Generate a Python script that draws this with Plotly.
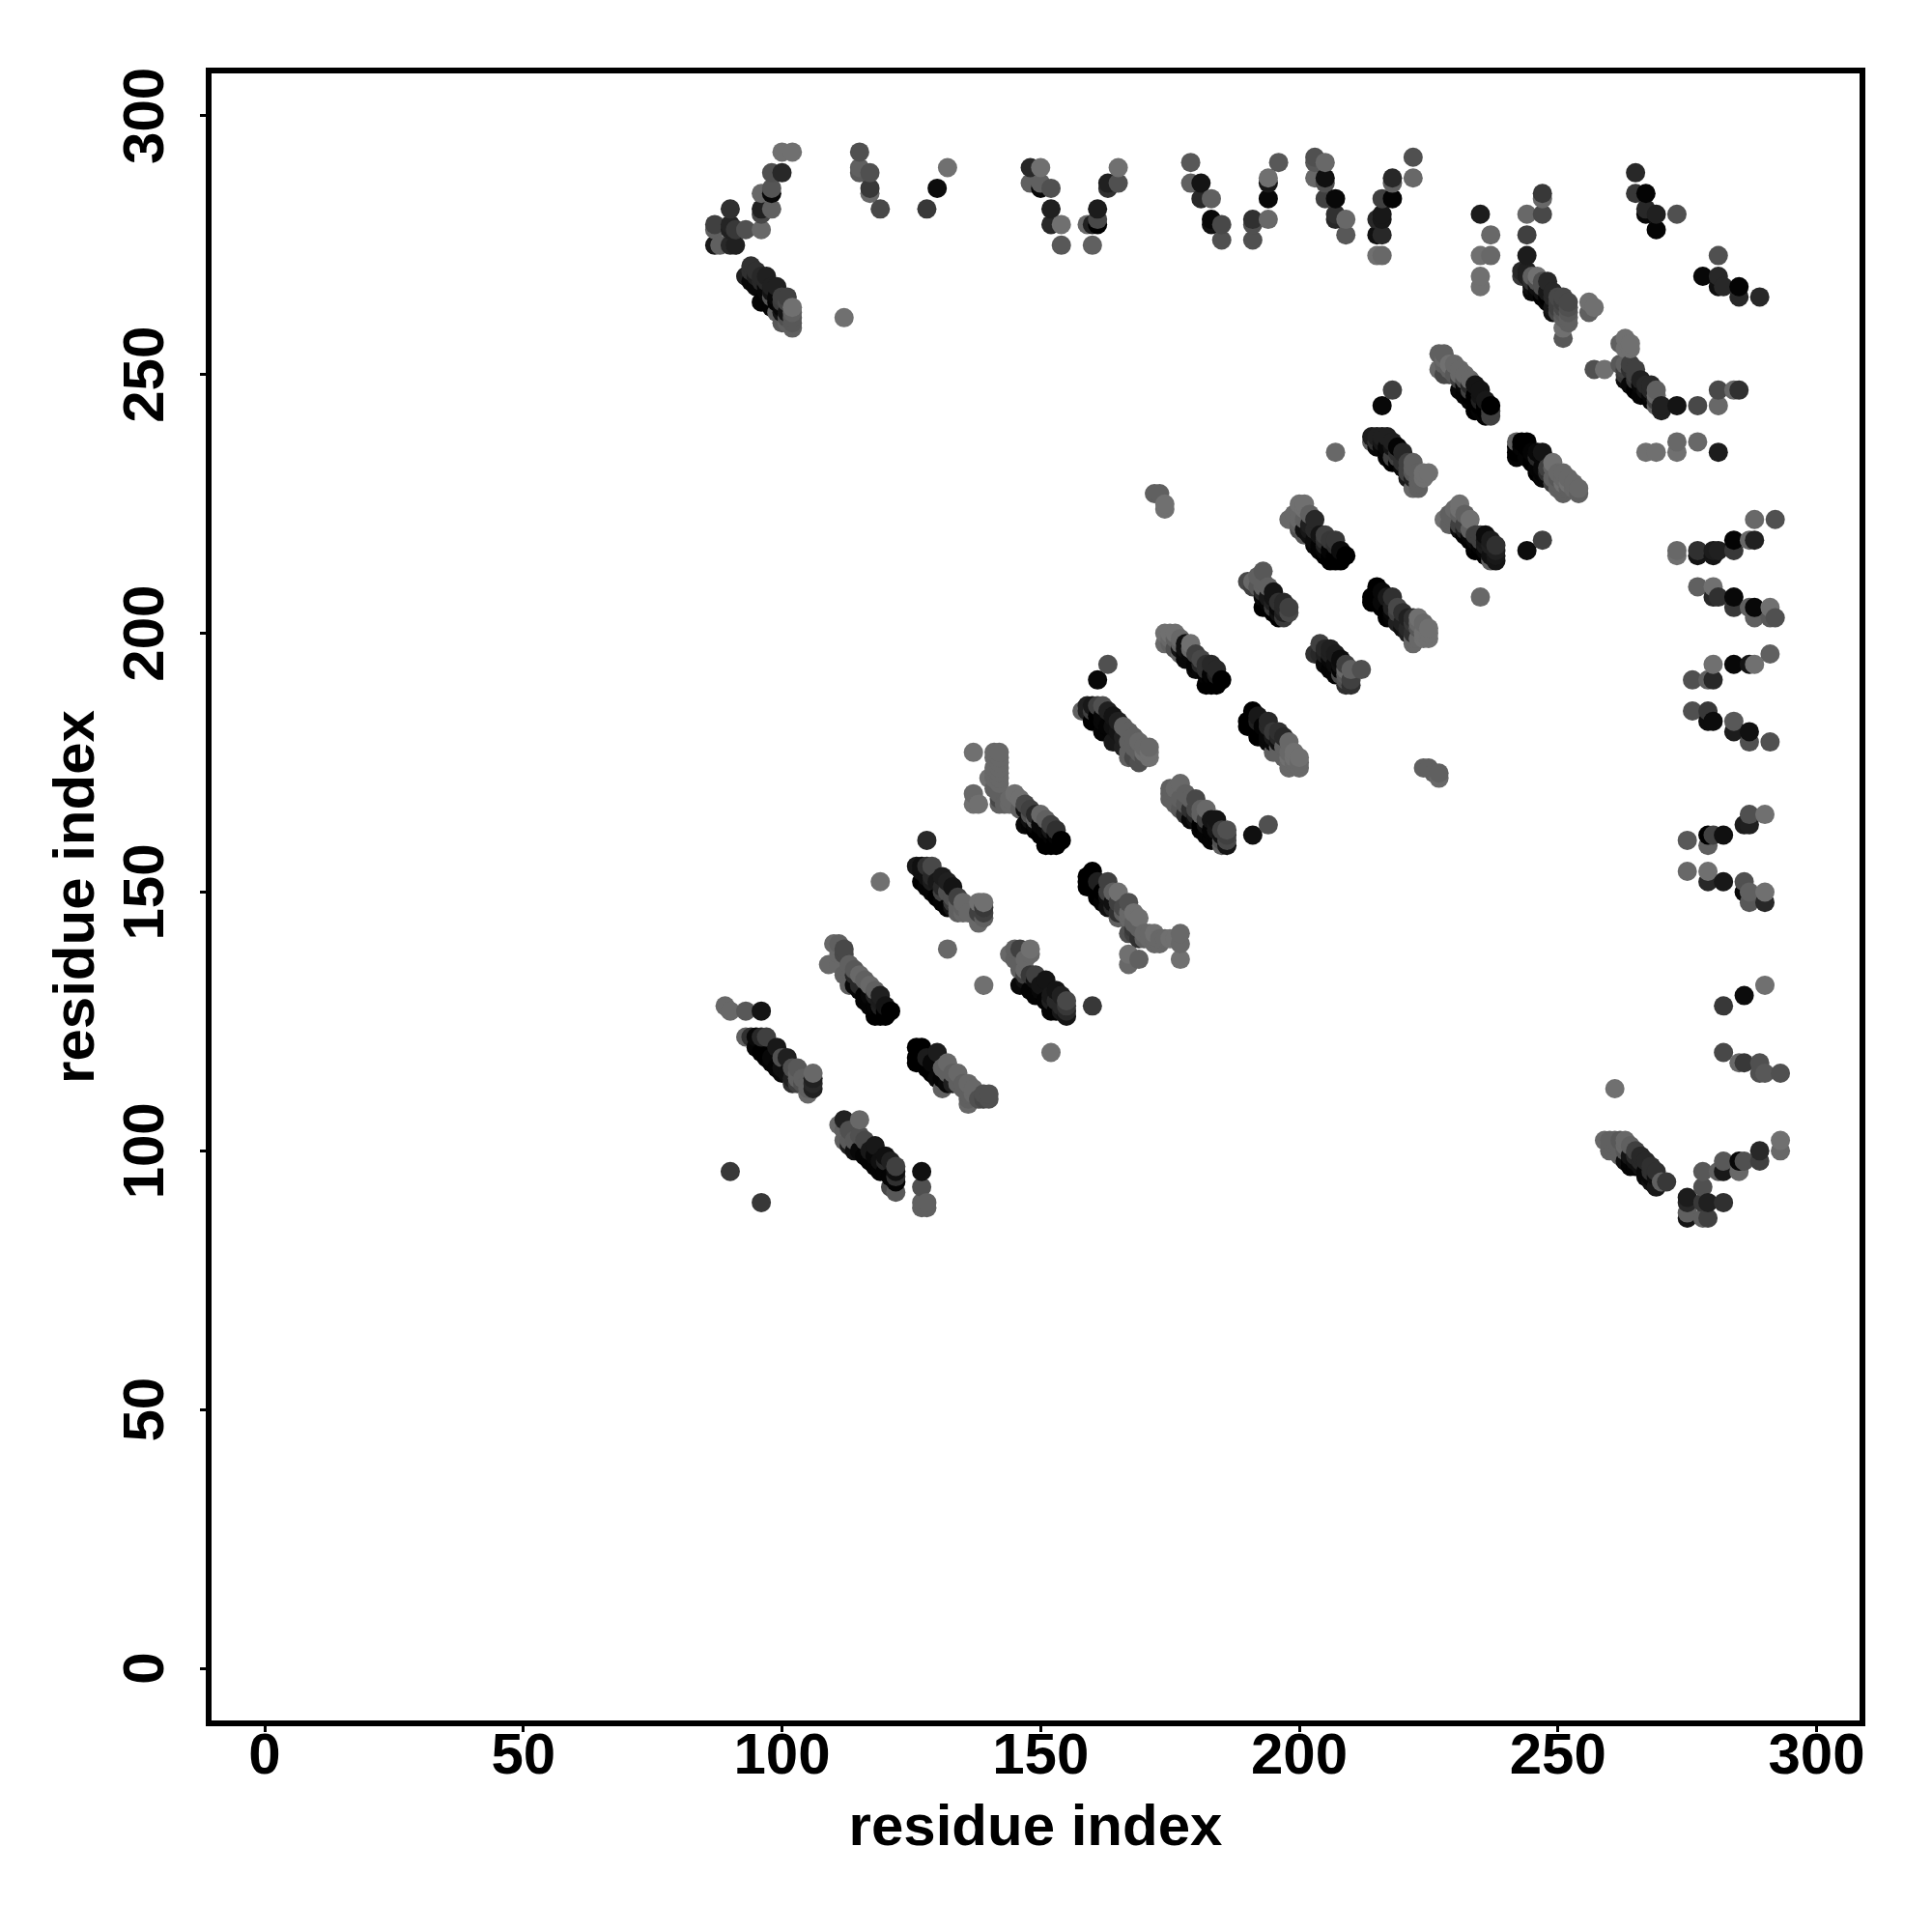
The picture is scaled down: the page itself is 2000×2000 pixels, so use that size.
import plotly.graph_objects as go

# Contacts: (residue i, residue j, shade 0=black .. 112=mid grey)
top_left = [(100,293,112),(102,293,112),(98,289,80),(100,289,40),(96,285,104),(98,285,8),(98,286,85),
 (96,282,32),(98,282,96),(96,281,72),(90,282,48),(87,279,64),(87,278,96),(90,279,36),(90,278,32),
 (91,278,56),(93,278,80),(96,278,104),(87,275,24),(88,275,96),(90,275,40),(91,275,32)]
top_left_band = [(94,271,48),(93,269,32),(96,269,40),(98,267,32),(94,268,8),(95,267,8),(96,264,4),(97,266,8),
 (100,265,64),(98,265,85),(98,263,4),(99,262,96),(100,260,88),(101,262,20),(102,263,112),(102,262,96),
 (102,261,88),(102,259,96),(112,261,112),
 (94,270,48),(95,269,32),(95,270,48),(96,268,40),(97,268,40),(97,269,32),(97,267,8),(98,266,20),(99,267,32),
 (99,265,8),(99,264,4),(100,264,60),(100,263,8),(101,265,64),(101,264,72),(101,260,96),(100,262,20),(101,261,80),(102,260,88)]
top_119 = [(115,293,80),(115,290,96),(115,289,90),(117,289,80),(117,286,56),(117,285,104),(119,282,72),
 (132,290,112),(130,286,12),(128,282,56)]
top_150 = [(148,290,40),(150,290,112),(148,287,96),(150,287,96),(150,286,8),(152,286,80),(152,282,32),
 (152,279,40),(154,279,112),(154,275,88),(159,279,104),(160,279,32),(161,279,0),(161,280,72),(161,282,28),
 (160,275,96),(165,290,112),(163,287,32),(163,286,48),(165,287,80)]
top_180 = [(179,291,88),(179,287,96),(181,287,20),(181,284,40),(183,284,96),(183,280,8),(183,279,16),
 (185,279,72),(185,276,80),(191,280,48),(191,279,80),(191,276,80),(194,288,112),(194,287,24),(194,284,8),
 (194,280,104),(196,291,88)]
top_205 = [(203,292,80),(203,291,88),(205,291,104),(203,288,104),(205,288,16),(205,287,80),(205,284,64),
 (207,284,8),(207,281,48),(207,280,40),(209,280,104),(209,277,88),(216,284,64),(215,280,40),(216,281,24),
 (216,280,24),(215,277,16),(216,277,40),(215,273,112),(216,273,104),(218,288,40),(218,287,96),(218,284,4),
 (222,292,80),(222,288,104)]
top_235 = [(235,281,28),(237,277,104),(235,273,112),(237,273,104),(235,269,112),(235,267,112),
 (247,285,56),(247,284,104),(247,281,72),(244,281,104),(244,277,64),(244,273,28)]
band_245 = [(243,270,40),(244,270,32),(243,269,56),(246,269,112),(248,268,40),(247,268,80),(246,267,16),
 (245,266,8),(247,265,0),(250,265,72),(252,264,72),(249,263,24),(252,262,88),(250,263,64),(251,261,96),
 (251,259,112),(251,257,88),(256,264,112),(257,263,112),(256,262,96),
 (244,269,32),(245,268,48),(245,269,96),(245,267,16),(246,268,80),(246,266,8),(247,267,80),(248,266,24),(247,266,16),
 (248,264,4),(249,266,40),(249,265,40),(248,265,0),(250,264,64),(249,262,16),(250,262,72),(251,265,72),(251,264,64),
 (251,263,72),(252,263,80),(251,262,88),(252,261,96),(252,260,96)]
top_265 = [(265,289,40),(265,285,56),(267,285,4),(267,282,40),(267,281,8),(269,281,32),(269,278,4),(273,281,80),
 (281,273,80),(278,269,8),(281,269,40),(281,267,16),(282,267,40),(285,267,4),(285,265,40),(289,265,40)]
band_230 = [(227,254,96),(228,254,96),(227,251,104),(229,252,112),(228,250,72),(231,251,104),(233,249,104),
 (232,249,80),(231,247,8),(232,246,4),(233,247,64),(235,247,20),(235,246,20),(235,245,32),(234,243,0),
 (236,242,4),(237,244,0),(237,243,64),
 (228,253,104),(228,252,96),(229,251,96),(230,250,88),(229,250,72),(230,252,104),(231,250,104),(231,249,64),(232,250,104),
 (232,248,8),(233,248,40),(233,246,0),(234,248,20),(234,245,0),(234,246,0),(235,244,0),(235,243,4),(236,245,24),
 (236,244,0),(236,243,0),(233,245,4),(237,242,64)]
band_262 = [(262,256,96),(263,257,112),(264,256,112),(257,251,80),(259,251,112),(262,252,88),(264,252,64),
 (263,250,56),(263,249,12),(265,250,64),(265,247,0),(266,246,4),(268,248,40),(269,246,104),(269,244,96),
 (270,244,32),(270,243,32),(273,244,20),(277,244,72),(281,244,104),(281,247,72),(284,247,104),(285,247,48),
 (263,252,96),(263,255,112),(264,255,112),(264,251,48),(264,248,8),(265,251,64),(265,249,56),(263,251,64),(266,249,32),
 (266,248,8),(267,248,40),(267,246,4),(267,247,20),(268,246,8),(268,245,4),(268,247,40),(269,245,64),(269,247,96)]
row_235 = [(273,237,104),(277,237,104),(267,235,112),(269,235,112),(273,235,112),(281,235,28)]
band_245b = [(242,237,96),(244,237,0),(242,236,0),(242,234,4),(247,235,20),(246,232,4),(249,233,112),
 (247,230,8),(251,231,104),(250,229,96),(251,229,112),(251,228,96),(254,228,104),(254,227,96),
 (243,237,0),(242,235,0),(243,236,4),(243,235,0),(244,236,0),(245,235,4),(244,234,4),(245,233,0),(246,235,8),(246,234,40),
 (247,234,8),(246,231,0),(247,232,8),(248,232,64),(248,231,48),(247,231,4),(248,230,8),(249,232,96),(249,230,96),(250,231,104),
 (249,229,64),(250,230,88),(251,230,104),(252,230,104),(252,229,112),(252,228,96),(253,228,104),(253,229,104),(251,227,96),(250,228,96)]
band_215 = [(214,238,28),(214,237,96),(216,238,32),(217,238,32),(219,236,4),(216,236,8),(218,234,64),(217,234,4),
 (218,233,0),(222,233,96),(221,231,64),(223,231,96),(225,231,112),(223,229,96),(222,228,104),
 (216,244,8),(218,247,64),(207,235,104),(172,227,96),(173,227,96),(174,225,112),(174,224,112),
 (215,238,32),(215,237,48),(215,236,8),(216,237,24),(217,236,8),(217,235,4),(218,237,32),(218,236,20),(219,235,48),(219,234,64),
 (219,233,0),(220,235,40),(220,233,48),(220,232,8),(221,233,64),(221,232,64),(222,231,88),(222,232,96),(223,230,96),(221,230,24),
 (222,230,32),(224,230,112),(224,231,112),(223,228,96)]
band_200 = [(200,225,112),(201,225,112),(198,222,104),(200,223,104),(201,219,88),(203,222,40),(202,221,32),
 (203,218,12),(205,219,64),(204,219,20),(207,218,56),(205,216,8),(206,214,0),(207,214,0),(209,215,0),(208,214,0),
 (199,223,104),(200,222,104),(201,224,112),(201,222,96),(200,221,96),(200,220,80),(202,223,96),(202,220,24),(202,219,16),
 (203,220,40),(201,220,16),(203,217,8),(204,217,4),(204,216,4),(205,218,48),(205,217,32),(206,218,56),(206,216,4),(206,215,0),
 (207,215,0),(207,217,48),(208,215,0),(208,216,12),(205,215,0)]
band_190 = [(190,210,72),(193,212,88),(191,210,104),(193,209,96),(195,208,20),(193,207,8),(193,205,0),
 (197,206,40),(195,205,56),(196,203,0),(198,204,72),(197,203,56),
 (191,209,64),(192,211,96),(192,209,88),(193,210,96),(194,209,96),(193,208,40),(194,207,24),(194,206,4),(195,207,20),(195,206,32),
 (196,206,48),(196,205,8),(194,205,0),(195,204,0),(197,205,40),(197,204,32),(196,204,16),(198,205,64)]
band_175 = [(174,200,112),(176,200,112),(174,198,104),(177,196,96),(178,198,16),(179,198,112),(180,196,64),
 (178,195,8),(180,193,8),(181,195,72),(183,194,40),(182,190,0),(183,190,0),(185,191,0),(184,190,0),
 (161,191,8),(163,194,80),
 (175,200,112),(175,199,104),(175,198,96),(176,199,96),(177,199,104),(176,197,80),(177,198,96),(177,197,20),(178,197,16),(179,196,8),
 (179,197,104),(178,196,8),(180,194,4),(181,194,40),(181,193,8),(182,193,48),(182,194,48),(183,192,4),(182,192,4),(184,193,40),
 (184,192,32),(183,191,0),(184,191,0)]
band_215b = [(215,209,0),(214,207,0),(214,206,0),(218,207,48),(217,204,0),(219,205,72),(219,202,32),(222,203,48),
 (223,203,112),(225,200,112),(225,199,112),(222,198,104),(221,200,32),
 (215,208,0),(215,207,0),(216,208,8),(216,206,8),(216,205,0),(217,207,24),(218,205,32),(218,204,8),(217,203,0),(218,203,4),(219,204,64),
 (220,204,48),(220,202,32),(220,201,16),(221,203,32),(221,201,40),(222,202,56),(222,200,48),(223,202,104),(223,201,88),(224,202,104),
 (224,200,112),(222,199,104),(223,199,104),(224,199,112),(225,201,112)]
band_205 = [(204,198,64),(203,196,48),(206,197,32),(205,194,8),(208,195,12),(207,192,4),(209,193,104),(212,193,80),
 (209,191,80),(210,190,48),
 (204,196,40),(205,197,40),(205,196,32),(206,196,32),(206,195,8),(207,196,28),(207,194,12),(206,193,4),(208,193,4),(208,194,16),
 (209,194,64),(209,192,88),(208,192,72),(210,193,96),(210,191,64),(209,190,48)]
band_160 = [(158,185,96),(159,186,32),(162,186,80),(164,184,20),(160,183,0),(162,181,4),(166,182,96),(164,179,24),
 (168,180,96),(170,178,104),(167,176,96),(169,175,80),(171,177,112),
 (159,185,32),(160,186,24),(160,185,64),(161,186,64),(161,184,0),(162,184,8),(163,185,32),(163,182,4),(164,182,16),(165,183,32),
 (165,181,20),(166,180,32),(165,179,24),(167,181,96),(166,178,32),(167,179,96),(168,178,96),(167,177,96),(169,179,104),(170,176,80),
 (169,177,96),(168,176,72),(170,177,112),(171,176,112),(171,178,104),(162,183,8)]
band_190b = [(191,185,0),(190,183,0),(190,182,0),(194,183,40),(192,180,0),(195,181,56),(196,180,40),(198,179,104),
 (195,177,96),(200,176,112),(198,174,104),(200,174,104),(199,177,112),(195,179,8),
 (191,184,0),(191,183,0),(192,184,24),(192,183,32),(193,182,4),(193,180,0),(194,182,40),(194,180,8),(194,179,8),(195,180,24),
 (196,181,48),(196,179,16),(196,178,96),(197,180,40),(197,178,96),(198,177,104),(198,176,112),(199,176,112),(198,175,104),(199,175,104),
 (197,176,96),(200,175,104)]
band_175b = [(175,170,96),(177,171,104),(175,169,96),(176,167,96),(180,168,72),(182,166,104),(178,165,48),
 (181,163,0),(184,164,20),(182,161,4),(186,162,80),(186,160,72),(186,159,20),(185,159,96),(191,161,16),(194,163,80),
 (224,174,96),(225,174,96),(226,173,96),(227,173,96),(227,172,104),
 (176,170,104),(175,168,96),(176,169,96),(177,168,96),(178,169,96),(179,168,96),(177,166,88),(178,167,88),(179,166,48),(180,166,72),
 (179,164,8),(180,164,16),(180,165,40),(181,166,96),(181,165,96),(182,164,64),(181,162,4),(182,163,16),(183,164,20),(183,162,4),
 (183,160,4),(184,162,24),(184,163,24),(184,161,4),(185,161,16),(185,162,64),(186,161,64),(185,160,80)]
band_235 = [(228,222,112),(229,223,96),(231,225,112),(231,223,96),(231,221,64),(233,222,112),(233,218,4),(234,216,0),
 (236,219,12),(238,217,48),(238,216,32),(238,214,20),(237,214,96),(235,218,64),(244,216,12),(247,218,64),(235,207,104),
 (229,221,96),(230,222,96),(230,224,104),(231,224,112),(232,223,96),(232,221,64),(230,221,96),(231,220,16),(232,219,4),(233,220,96),
 (232,220,32),(233,219,8),(234,218,12),(234,219,64),(235,219,64),(235,217,4),(234,217,4),(235,216,0),(236,218,24),(236,217,28),
 (237,218,28),(236,215,0),(237,217,32),(237,215,16),(236,216,8),(238,215,24)]
right_215 = [(288,222,104),(292,222,80),(273,216,104),(273,215,112),(277,216,48),(277,215,20),(280,216,28),(280,215,20),
 (281,216,32),(284,216,56),(284,218,4),(287,218,104),(288,218,32)]
right_205 = [(277,209,96),(280,209,112),(280,207,40),(281,207,48),(284,207,8),(284,205,56),(287,205,96),(288,205,8),
 (291,205,112),(288,203,96),(291,203,88),(292,203,80),(291,196,96),(280,194,112),(284,194,8),(287,194,20),(288,194,112),
 (276,191,80),(279,191,96),(280,191,40)]
right_180 = [(276,185,80),(279,185,56),(279,183,12),(280,183,12),(284,183,88),(284,181,28),(287,181,16),(287,179,80),(291,179,80)]
right_160 = [(275,160,88),(279,161,0),(279,159,96),(280,161,64),(282,161,16),(286,163,28),(287,163,32),(287,165,80),(290,165,112),
 (275,154,104),(279,154,112),(279,152,40),(282,152,24),(286,152,80),(286,150,8),(287,150,96),(287,148,88),(290,150,112),(290,148,40)]
right_120 = [(290,132,112),(286,130,12),(282,128,56),(282,119,72),(285,117,104),(286,117,56),(289,117,80),(289,115,80),
 (290,115,88),(293,115,80),(261,112,112)]
bottom_right = [(293,102,112),(293,100,104),(289,100,40),(289,98,64),(285,98,8),(286,98,80),(285,96,104),(282,98,88),(282,96,24),
 (281,96,96),(278,96,88),(278,93,80),(282,90,48),(279,90,32),(278,90,56),(275,91,28),(275,90,40),(275,88,96),(275,87,20),
 (278,87,96),(279,87,64)]
band_262b = [(259,102,104),(260,102,96),(261,102,96),(262,102,88),(263,102,104),(260,100,96),(262,99,96),(265,100,64),(264,97,4),
 (263,98,16),(267,98,40),(267,95,8),(269,96,48),(268,94,16),(269,93,24),(270,94,96),(271,94,56),
 (260,101,96),(261,101,96),(261,100,96),(262,100,96),(263,100,88),(263,101,104),(264,101,96),(264,99,20),(265,99,40),(265,98,16),
 (264,98,4),(265,97,4),(266,99,40),(266,98,40),(266,97,16),(267,96,8),(268,97,48),(268,96,48),(268,95,8),(269,95,16)]
band_130 = [(128,160,40),(126,155,24),(127,155,16),(128,155,48),(129,155,72),(127,152,0),(131,153,28),(129,150,4),(133,151,20),
 (131,148,4),(132,150,80),(135,148,104),(134,149,64),(134,146,96),(135,146,104),(139,148,112),(138,148,112),(139,146,64),
 (139,145,96),(138,144,104),(119,152,112),(132,139,104),(139,132,112),(152,119,112),
 (127,154,16),(128,153,16),(129,153,40),(128,151,4),(129,152,28),(130,152,24),(130,149,0),(131,151,40),(131,150,64),(132,152,32),
 (132,147,4),(133,149,80),(133,147,20),(133,148,56),(134,148,96),(134,147,96),(135,147,96),(136,146,104),(139,147,56),(138,146,64)]
band_115 = [(110,140,104),(111,140,96),(112,139,72),(109,136,104),(111,136,104),(113,136,96),(112,134,96),(115,134,104),(114,134,40),
 (113,132,96),(114,132,8),(117,132,104),(116,129,4),(119,130,32),(118,126,0),(119,126,0),(120,126,0),(121,127,0),
 (111,138,104),(112,138,72),(113,135,96),(114,135,88),(115,132,40),(116,133,96),(115,131,8),(117,130,8),(116,130,4),(118,128,4),
 (117,128,4),(118,130,32),(118,131,96),(119,128,32),(120,128,20),(119,127,0),(120,127,0),(119,129,28)]
band_90 = [(89,128,104),(90,127,104),(93,127,88),(96,127,20)]
band_98 = [(93,122,96),(94,122,48),(95,122,8),(96,122,40),(97,122,64),(96,119,0),(99,120,24),(98,117,4),(101,118,32),(100,115,8),
 (100,118,80),(103,116,88),(102,113,48),(106,115,104),(106,112,32),(105,111,104),(103,114,96),
 (95,120,4),(97,118,0),(98,118,8),(99,116,4),(100,116,16),(101,115,16),(102,114,32),(103,113,64),(104,113,80),(105,113,96),(102,116,80),
 (103,115,96),(104,114,96),(105,112,96),(106,114,32),(106,113,40)]
band_115b = [(111,105,104),(112,106,32),(115,106,104),(112,102,96),(115,103,80),(114,100,16),(118,101,24),(117,98,4),(120,99,16),(119,96,4),
 (122,97,64),(122,95,48),(122,94,4),(121,93,72),(122,92,88),(127,96,16),(127,93,80),(127,90,96),(127,89,96),(128,90,96),(128,89,96),
 (90,96,56),(96,90,56),
 (113,104,80),(112,104,96),(113,102,90),(113,101,32),(114,102,88),(115,100,8),(116,99,4),(116,102,72),(117,100,24),(118,97,4),(119,98,16),
 (118,99,8),(120,96,4),(121,95,4),(121,98,32),(122,96,16),(120,98,40)]
band_130b = [(127,120,0),(126,120,0),(126,118,0),(126,117,0),(130,119,28),(128,116,0),(132,117,104),(130,114,8),(134,115,104),(131,112,96),
 (136,113,104),(135,113,96),(136,109,104),(139,111,80),(140,111,80),(140,110,80),
 (127,118,0),(128,118,28),(129,117,8),(129,115,0),(131,116,96),(131,114,4),(132,115,96),(133,113,32),(132,113,8),(133,115,96),(134,113,96),
 (135,112,96),(137,112,104),(136,111,96),(137,111,104),(136,110,96),(139,110,72),(138,110,80)]
band_148 = [(144,138,104),(145,139,96),(146,139,64),(148,139,112),(148,138,104),(146,135,96),(147,135,104),(146,132,8),(149,134,64),(151,133,20),
 (149,130,4),(153,131,20),(152,127,4),(155,129,72),(155,127,40),(155,126,20),(160,128,56),
 (145,137,96),(147,137,104),(146,136,96),(147,133,16),(147,134,64),(148,134,56),(148,131,4),(149,133,16),(150,131,8),(150,132,20),(151,129,4),
 (152,130,24),(152,129,32),(153,127,4),(154,130,32),(154,127,24),(154,128,40),(155,128,56),(153,129,40)]
band_162 = [(160,154,0),(159,153,0),(159,152,0),(159,151,0),(163,152,64),(162,150,0),(165,150,112),(162,148,4),(167,148,80),(163,147,16),
 (168,146,112),(169,145,112),(165,145,96),(167,142,80),(169,141,48),(171,142,104),(172,140,104),(172,142,112),(177,142,104),(176,141,112),
 (177,140,104),(167,138,112),(167,136,104),(169,137,96),(177,137,112),
 (160,152,0),(160,151,0),(161,152,32),(161,150,0),(161,149,0),(163,150,64),(164,150,96),(163,149,16),(164,148,16),(164,147,40),(165,148,64),
 (166,147,72),(165,146,48),(166,146,96),(167,146,104),(167,145,104),(168,144,96),(168,143,56),(168,142,64),(170,142,104),(170,141,96),(171,141,104),
 (173,141,104),(174,141,104),(175,141,112),(173,140,104),(172,141,104),(169,143,96)]
band_145 = [(137,177,112),(141,177,104),(142,177,104),(141,176,104),(142,176,104),(141,174,104),(140,172,112),(142,172,104),(142,171,104),
 (141,170,96),(137,169,104),(137,167,112),(138,167,112),(142,168,72),(142,167,96),(145,169,112),(144,167,104),(147,167,72),(147,166,16),
 (150,165,104),(147,163,8),(149,162,0),(152,163,64),(151,159,0),(153,159,0),(154,160,0),(152,159,0),(149,164,96),(148,165,80),
 (143,167,96),(144,168,104),(146,166,96),(146,168,112),(148,166,64),(148,164,16),(149,165,40),(148,163,4),(150,163,8),(150,161,0),(151,164,96),
 (151,162,8),(152,161,4),(152,162,24),(153,162,48),(149,163,8),(153,161,4),(153,160,0),(141,172,104),(141,173,104),(142,175,104),(142,174,104),
 (142,173,104),(142,169,96)]

groups = [top_left, top_left_band, top_119, top_150, top_180, top_205, top_235, band_245, top_265, band_230, band_262,
          row_235, band_245b, band_215, band_200, band_190, band_175, band_215b, band_205, band_160, band_190b, band_175b,
          band_235, right_215, right_205, right_180, right_160, right_120, bottom_right, band_262b, band_130, band_115,
          band_90, band_98, band_115b, band_130b, band_148, band_162, band_145]
tick_values = [0, 50, 100, 150, 200, 250, 300]
axis_label = "residue index"

contacts = sorted((c for g in groups for c in g), key=lambda c: (c[0], c[1]))
res_i = [c[0] for c in contacts]
res_j = [c[1] for c in contacts]
shades = [f"rgb({c[2]},{c[2]},{c[2]})" for c in contacts]

FONT = "Liberation Sans"
fig = go.Figure(go.Scatter(x=res_i, y=res_j, mode="markers",
                           marker=dict(size=20, color=shades, line=dict(width=0)), showlegend=False))
axis = dict(showgrid=False, zeroline=False, showline=True, mirror=True, linecolor="black", linewidth=6,
            ticks="outside", ticklen=6, tickwidth=3, tickcolor="black", tickvals=tick_values,
            tickfont=dict(family=FONT, size=60, color="black", weight="bold"))
fig.update_xaxes(**axis, range=[-10.27, 308.3], ticklabelstandoff=-29,
                 title=dict(text=axis_label, font=dict(family=FONT, size=60, color="black", weight="bold"), standoff=22))
fig.update_yaxes(**axis, range=[-10.08, 308.2], tickangle=-90, ticklabelstandoff=14, ticklabelshift=9,
                 title=dict(text=axis_label, font=dict(family=FONT, size=60, color="black", weight="bold"), standoff=0))
fig.update_layout(width=2000, height=2000, margin=dict(l=219, r=75, t=76, b=219, autoexpand=False),
                  paper_bgcolor="white", plot_bgcolor="white")
fig.write_html("out.html", post_script="document.body.style.margin='0';", config={"displayModeBar": False})
